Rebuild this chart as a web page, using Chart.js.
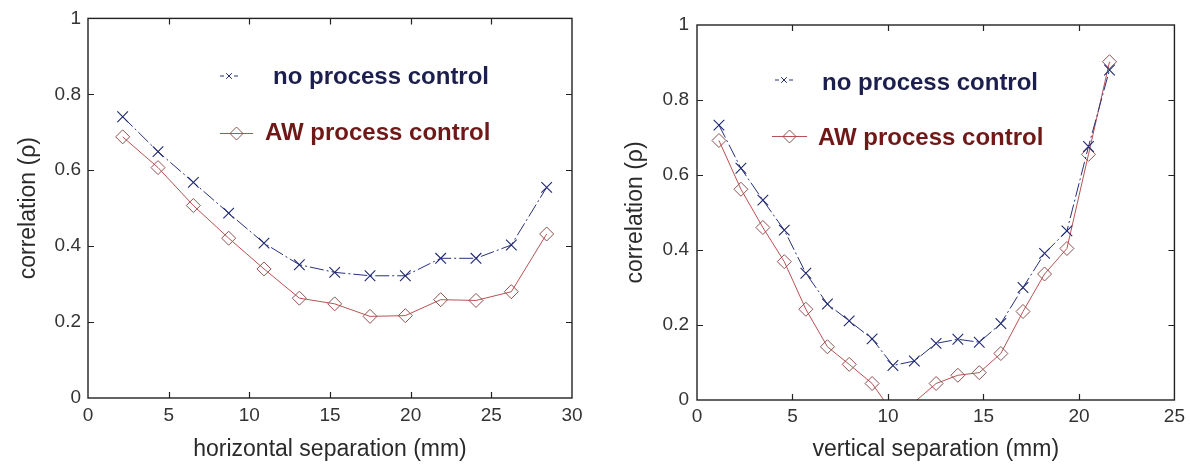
<!DOCTYPE html>
<html>
<head>
<meta charset="utf-8">
<script src="https://cdn.jsdelivr.net/npm/chart.js@4/dist/chart.umd.min.js"></script>
<style>
  body { margin: 0; background: #fff; }
  .panel { position: absolute; top: 0; width: 595px; height: 464px; }
</style>
</head>
<body>
<div class="panel" style="left:0"><canvas id="horiz" width="595" height="464"></canvas></div>
<div class="panel" style="left:595px"><canvas id="vert" width="595" height="464"></canvas></div>
<script>
// horizontal separation (mm) and correlation values
const horizX = [2.15, 4.34, 6.53, 8.72, 10.91, 13.1, 15.29, 17.48, 19.67, 21.86, 24.05, 26.24, 28.43];
const horizNoControl = [0.741, 0.649, 0.568, 0.487, 0.408, 0.351, 0.331, 0.322, 0.322, 0.368, 0.368, 0.403, 0.555];
const horizAW = [0.688, 0.607, 0.507, 0.421, 0.340, 0.263, 0.248, 0.215, 0.217, 0.259, 0.257, 0.280, 0.432];

// vertical separation (mm) and correlation values
const vertX = [1.15, 2.3, 3.45, 4.57, 5.7, 6.83, 7.97, 9.17, 10.26, 11.38, 12.52, 13.66, 14.78, 15.91, 17.07, 18.2, 19.37, 20.5, 21.6];
const vertNoControl = [0.733, 0.618, 0.533, 0.453, 0.338, 0.256, 0.211, 0.163, 0.092, 0.104, 0.151, 0.162, 0.154, 0.204, 0.300, 0.391, 0.451, 0.676, 0.880];
const vertAW = [0.692, 0.562, 0.460, 0.369, 0.242, 0.142, 0.095, 0.044, -0.035, -0.006, 0.044, 0.066, 0.073, 0.124, 0.236, 0.336, 0.404, 0.655, 0.902];

const seriesLabels = ["no process control", "AW process control"];
const yTicks = [0, 0.2, 0.4, 0.6, 0.8, 1];
const yTickLabels = ["0", "0.2", "0.4", "0.6", "0.8", "1"];

const FONT = "'Liberation Sans', Arial, sans-serif";
const BLUE = "#27307a";
const RED = "#b85252";

function toPoints(xs, ys) {
  return xs.map((x, i) => ({ x: x, y: ys[i] }));
}

// box around the axes with inward tick marks, plus the legend inside the plot
const framePlugin = {
  id: "frame",
  afterDatasetsDraw(chart, args, opts) {
    const ctx = chart.ctx;
    const a = chart.chartArea;
    const xs = chart.scales.x;
    const ys = chart.scales.y;
    ctx.save();
    ctx.strokeStyle = "#222";
    ctx.lineWidth = 1.4;
    ctx.strokeRect(a.left, a.top, a.right - a.left, a.bottom - a.top);
    ctx.lineWidth = 1.2;
    ctx.beginPath();
    xs.ticks.forEach(t => {
      if (t.value <= xs.min || t.value >= xs.max) return;
      const px = Math.round(xs.getPixelForValue(t.value)) + 0.5;
      ctx.moveTo(px, a.bottom); ctx.lineTo(px, a.bottom - 6);
      ctx.moveTo(px, a.top); ctx.lineTo(px, a.top + 6);
    });
    ys.ticks.forEach(t => {
      if (t.value <= ys.min || t.value >= ys.max) return;
      const py = Math.round(ys.getPixelForValue(t.value)) + 0.5;
      ctx.moveTo(a.left, py); ctx.lineTo(a.left + 6, py);
      ctx.moveTo(a.right, py); ctx.lineTo(a.right - 6, py);
    });
    ctx.stroke();

    // legend
    opts.entries.forEach((e, i) => {
      const ds = chart.data.datasets[i];
      ctx.strokeStyle = ds.borderColor;
      ctx.lineWidth = 1;
      ctx.setLineDash(e.dash || []);
      ctx.beginPath();
      ctx.moveTo(e.x1, e.y);
      ctx.lineTo(e.x2, e.y);
      ctx.stroke();
      ctx.setLineDash([]);
      ctx.strokeStyle = ds.pointBorderColor;
      ctx.fillStyle = "rgba(0,0,0,0)";
      Chart.helpers.drawPoint(ctx, {
        pointStyle: ds.pointStyle, radius: e.r, borderWidth: 1, rotation: 0
      }, (e.x1 + e.x2) / 2, e.y);
      ctx.fillStyle = e.color;
      ctx.font = "bold 24px " + FONT;
      ctx.textBaseline = "alphabetic";
      ctx.textAlign = "left";
      ctx.fillText(ds.label, e.tx, e.ty);
    });
    ctx.restore();
  }
};

function makeChart(id, xs, noCtrl, aw, cfg) {
  const ctx = document.getElementById(id).getContext("2d");
  return new Chart(ctx, {
    type: "line",
    data: {
      datasets: [
        {
          label: seriesLabels[0],
          data: toPoints(xs, noCtrl),
          borderColor: BLUE,
          borderWidth: 1,
          borderDash: [14, 3, 2, 3],
          pointStyle: "crossRot",
          pointRadius: 7.5,
          pointBorderColor: "#1f2870",
          pointBorderWidth: 1.1,
          tension: 0
        },
        {
          label: seriesLabels[1],
          data: toPoints(xs, aw),
          borderColor: RED,
          borderWidth: 1,
          pointStyle: "rectRot",
          pointRadius: c => (c.parsed && c.parsed.y < 0 ? 0 : 7),
          pointBorderColor: "#8e5050",
          pointBackgroundColor: "rgba(0,0,0,0)",
          pointBorderWidth: 1,
          tension: 0
        }
      ]
    },
    options: {
      responsive: false,
      animation: false,
      layout: { padding: { left: 0, top: cfg.top, right: cfg.right, bottom: 0 } },
      plugins: {
        legend: { display: false },
        tooltip: { enabled: false },
        frame: { entries: cfg.legend }
      },
      scales: {
        x: {
          type: "linear",
          min: 0,
          max: cfg.xMax,
          grid: { display: false, drawTicks: false },
          border: { display: false },
          ticks: { stepSize: 5, color: "#333", padding: cfg.xPad, font: { family: FONT, size: 19 } },
          title: {
            display: true, text: cfg.xTitle, color: "#2a2a2a",
            font: { family: FONT, size: 23 }, padding: { top: 0, bottom: 1 }
          },
          afterFit: s => { s.height = cfg.xHeight; }
        },
        y: {
          min: 0,
          max: 1,
          grid: { display: false, drawTicks: false },
          border: { display: false },
          afterBuildTicks: s => { s.ticks = yTicks.map(v => ({ value: v })); },
          ticks: {
            color: "#333", padding: cfg.yPad, font: { family: FONT, size: 19 },
            callback: v => yTickLabels[yTicks.indexOf(Math.round(v * 10) / 10)]
          },
          title: {
            display: true, text: "correlation (ρ)", color: "#2a2a2a",
            font: { family: FONT, size: 23 }, padding: { top: cfg.yTitlePad, bottom: 0 }
          },
          afterFit: s => { s.width = cfg.yWidth; }
        }
      }
    },
    plugins: [framePlugin]
  });
}

makeChart("horiz", horizX, horizNoControl, horizAW, {
  top: 17, right: 23, xMax: 30, xHeight: 66, yWidth: 88, xPad: 6, yPad: 7, yTitlePad: 15,
  xTitle: "horizontal separation (mm)",
  legend: [
    { x1: 220, x2: 238, y: 76, r: 4, dash: [4, 10], tx: 273, ty: 84, color: "#1c1f4e" },
    { x1: 220, x2: 253, y: 133.5, r: 6.5, tx: 265, ty: 140, color: "#701818" }
  ]
});

makeChart("vert", vertX, vertNoControl, vertAW, {
  top: 25, right: 12, xMax: 25, xHeight: 64, yWidth: 102, xPad: 5, yPad: 8, yTitlePad: 27,
  xTitle: "vertical separation (mm)",
  legend: [
    { x1: 180, x2: 198, y: 80, r: 4, dash: [4, 10], tx: 227, ty: 90, color: "#1c1f4e" },
    { x1: 177, x2: 212, y: 136.5, r: 6.5, tx: 223, ty: 145, color: "#701818" }
  ]
});
</script>
</body>
</html>
